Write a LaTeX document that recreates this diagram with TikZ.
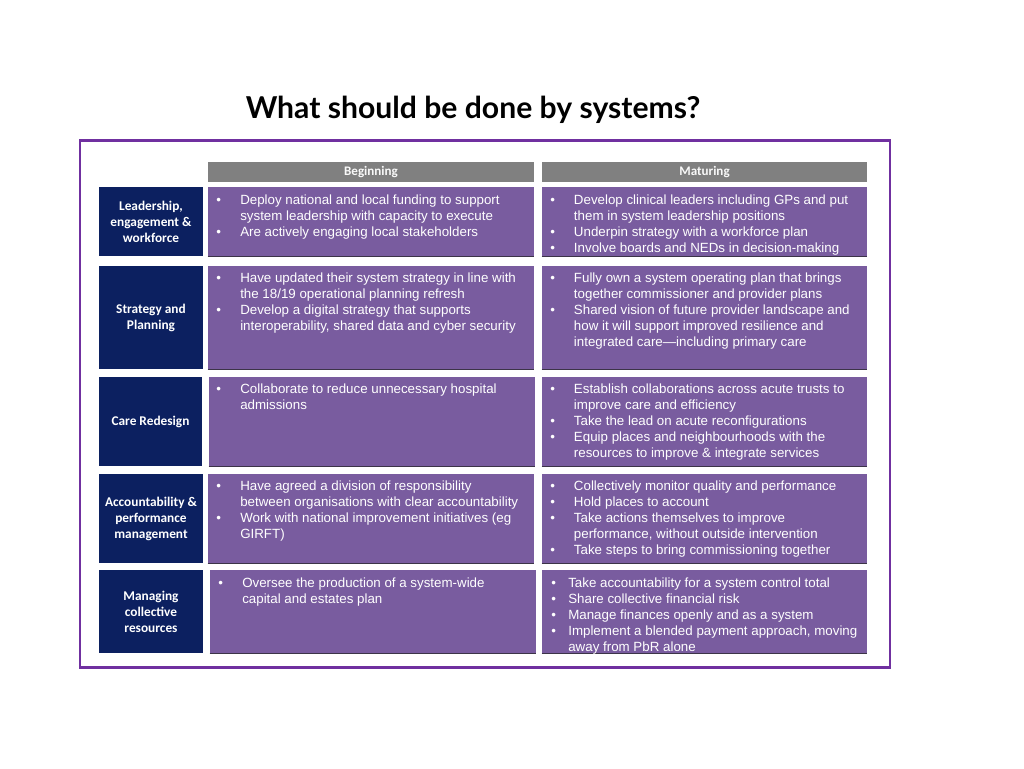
\documentclass[tikz,border=0pt]{standalone}
\usepackage{fontspec}
\setmainfont{Liberation Sans}
\newfontfamily\labfont{Carlito}
\newfontfamily\titlefont{Lato}
\definecolor{navy}{HTML}{0C2060}
\definecolor{cellpurple}{HTML}{795C9F}
\definecolor{hdrgray}{HTML}{808080}
\definecolor{framepurple}{HTML}{7030A0}
\definecolor{shade}{HTML}{3C3448}
\newcommand{\bu}[1][18pt]{\rule{0pt}{9pt}\makebox[#1][l]{•}}
\newcommand{\ct}[1][18pt]{\rule{0pt}{9pt}\hspace*{#1}}
% style, name, x1, y1, x2, y2, text
\newcommand{\cellbox}[7]{%
  \node[#1, minimum width={(#5-#3)*0.75pt}, minimum height={(#6-#4)*0.75pt}] (#2) at ({(#3+#5)/2},{(#4+#6)/2}) {#7};}
\begin{document}
\begin{tikzpicture}[x=0.75pt,y=-0.75pt,
  lab/.style={fill=navy, text=white, inner sep=0, align=center,
    font=\labfont\bfseries\fontsize{10}{12}\selectfont},
  cell/.style={fill=cellpurple, inner sep=0},
  hdr/.style={fill=hdrgray, text=white!95!gray, inner sep=0,
    font=\labfont\bfseries\fontsize{9.8}{11}\selectfont},
  txt/.style={anchor=north west, inner sep=0, align=left, text=white,
    font=\fontsize{10}{12}\selectfont},
  shadowline/.style={draw=shade, line width=1pt},
  frame/.style={draw=framepurple, line width=2.2pt}]
\useasboundingbox (0,0) rectangle (1024,768);
\fill[white] (0,0) rectangle (1024,768);

\node[font=\titlefont\bfseries\fontsize{22.6}{26}\selectfont, anchor=base] (title) at (473,118) {What should be done by systems?};

\node[frame, minimum width={810*0.75pt}, minimum height={527*0.75pt}, inner sep=0] (outer) at (485,404) {};

% headers
\cellbox{hdr}{hb}{208}{162}{534}{182}{Beginning}
\cellbox{hdr}{hm}{542}{162}{867}{182}{Maturing}

% row labels
\cellbox{lab}{l1}{99}{187}{203}{256}{Leadership,\\engagement \&\\workforce}
\cellbox{lab}{l2}{99}{266}{203}{369}{Strategy and\\Planning}
\cellbox{lab}{l3}{99}{377}{202}{466}{Care Redesign}
\cellbox{lab}{l4}{99}{474}{203}{563}{Accountability \&\\performance\\management}
\cellbox{lab}{l5}{99}{570}{203}{653}{Managing\\collective\\resources}

% purple cells
\cellbox{cell}{b1}{208}{187}{534}{256}{}
\cellbox{cell}{m1}{542}{187}{867}{256}{}
\cellbox{cell}{b2}{208}{266}{534}{369}{}
\cellbox{cell}{m2}{542}{266}{867}{369}{}
\cellbox{cell}{b3}{209}{377}{535}{466}{}
\cellbox{cell}{m3}{542}{377}{867}{466}{}
\cellbox{cell}{b4}{208}{474}{534}{563}{}
\cellbox{cell}{m4}{542}{474}{867}{563}{}
\cellbox{cell}{b5}{210}{570}{536}{653}{}
\cellbox{cell}{m5}{542}{570}{867}{653}{}
\foreach \c in {b1,m1,b2,m2,b3,m3,b4,m4,b5,m5}
  \draw[shadowline] (\c.south west) -- (\c.south east);

% texts
\node[txt] (tb1) at (216,192) {\bu Deploy national and local funding to support\\
  \ct system leadership with capacity to execute\\
  \bu Are actively engaging local stakeholders};
\node[txt] (tm1) at (550,192) {\bu[15pt] Develop clinical leaders including GPs and put\\
  \ct[15pt] them in system leadership positions\\
  \bu[15pt] Underpin strategy with a workforce plan\\
  \bu[15pt] Involve boards and NEDs in decision-making};

\node[txt] (tb2) at (216,270) {\bu Have updated their system strategy in line with\\
  \ct the 18/19 operational planning refresh\\
  \bu Develop a digital strategy that supports\\
  \ct interoperability, shared data and cyber security};
\node[txt] (tm2) at (550,270) {\bu[15pt] Fully own a system operating plan that brings\\
  \ct[15pt] together commissioner and provider plans\\
  \bu[15pt] Shared vision of future provider landscape and\\
  \ct[15pt] how it will support improved resilience and\\
  \ct[15pt] integrated care—including primary care};

\node[txt] (tb3) at (216,381) {\bu Collaborate to reduce unnecessary hospital\\
  \ct admissions};
\node[txt] (tm3) at (550,381) {\bu[15pt] Establish collaborations across acute trusts to\\
  \ct[15pt] improve care and efficiency\\
  \bu[15pt] Take the lead on acute reconfigurations\\
  \bu[15pt] Equip places and neighbourhoods with the\\
  \ct[15pt] resources to improve \& integrate services};

\node[txt] (tb4) at (216,478) {\bu Have agreed a division of responsibility\\
  \ct between organisations with clear accountability\\
  \bu Work with national improvement initiatives (eg\\
  \ct GIRFT)};
\node[txt] (tm4) at (550,478) {\bu[15pt] Collectively monitor quality and performance\\
  \bu[15pt] Hold places to account\\
  \bu[15pt] Take actions themselves to improve\\
  \ct[15pt] performance, without outside intervention\\
  \bu[15pt] Take steps to bring commissioning together};

\node[txt] (tb5) at (218,575) {\bu Oversee the production of a system-wide\\
  \ct capital and estates plan};
\node[txt] (tm5) at (551,575) {\bu[10pt] Take accountability for a system control total\\
  \bu[10pt] Share collective financial risk\\
  \bu[10pt] Manage finances openly and as a system\\
  \bu[10pt] Implement a blended payment approach, moving\\
  \ct[10pt] away from PbR alone};
\end{tikzpicture}
\end{document}
